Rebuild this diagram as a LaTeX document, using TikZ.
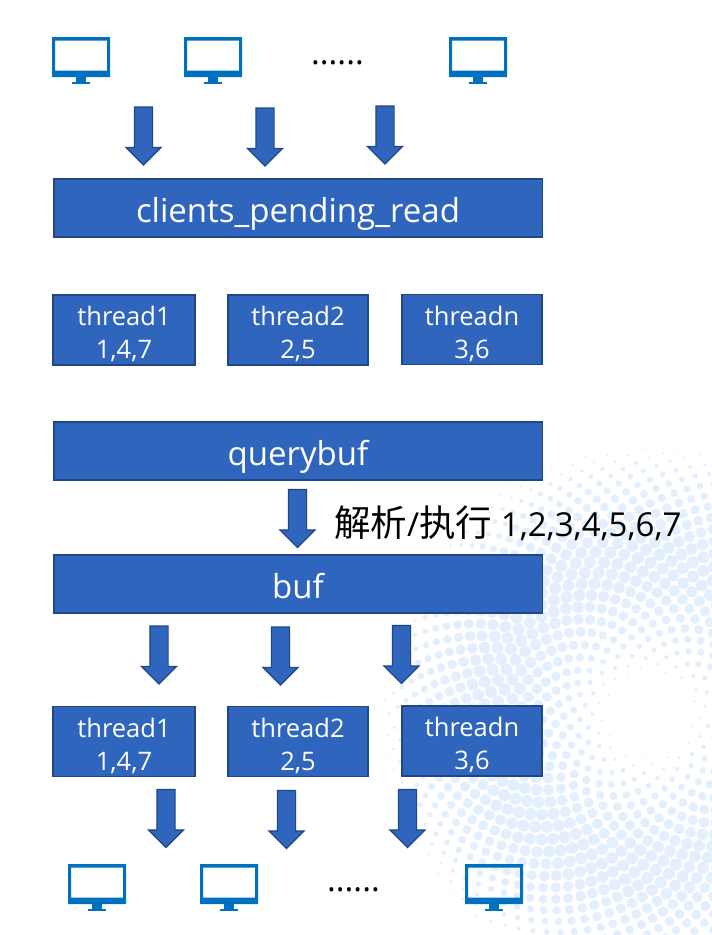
\documentclass[tikz,border=0pt]{standalone}
\usepackage{fontspec}
\setmainfont{Open Sans}
\newfontfamily\cjk{Noto Sans CJK SC}
\usetikzlibrary{shapes.arrows}
\definecolor{boxfill}{HTML}{3065BE}
\definecolor{boxline}{HTML}{1F4788}
\definecolor{screenblue}{HTML}{0070C0}
\definecolor{dotblue}{HTML}{E3EFFC}
\newcommand{\threadlabel}[2]{\rule{0pt}{27.5pt}#1\\#2}
\tikzset{
  blockbox/.style={draw=boxline,fill=boxfill,line width=1.5pt,text=white,inner sep=0pt,align=center},
  widebox/.style={blockbox,minimum width=488.5pt,minimum height=58pt,text height=31pt,text depth=3pt,font=\fontsize{33}{33}\selectfont},
  threadbox/.style={blockbox,minimum height=70pt,font=\fontsize{25.5}{33}\selectfont},
  blockarrow/.style={single arrow,draw=boxline,fill=boxfill,line width=1.2pt,inner sep=8.5pt,yshift=4pt,
    minimum height=58pt,minimum width=35pt,single arrow head extend=8.5pt,shape border rotate=270},
  dotstext/.style={inner sep=0pt,font=\fontsize{33}{33}\selectfont},
  pics/monitor/.style={code={
    \fill[screenblue,even odd rule] (0,0) rectangle (58,40) (3,3.5) rectangle (55,33.5);
    \fill[screenblue] (24,40) rectangle (34,45);
    \fill[screenblue] (20,45) rectangle (38,47);
  }}
}
\begin{document}
\begin{tikzpicture}[x=1pt,y=-1pt]
  \useasboundingbox (0,0) rectangle (712,935);
  % halftone behind everything
  \begin{scope}
    \clip (0,0) rectangle (712,935);
    \foreach \n in {1,...,1900}{
      \pgfmathsetmacro{\rad}{6.8*sqrt(\n)}
      \pgfmathsetmacro{\ang}{360*mod(0.381966*\n,1)}
      \pgfmathsetmacro{\dx}{650+\rad*cos(\ang)}
      \pgfmathsetmacro{\dy}{715+\rad*sin(\ang)}
      \pgfmathsetmacro{\dotr}{max(0,6*sin(min(180,max(0,(\rad-30)*0.72))))}
      \ifdim\dotr pt>0.4pt
        \fill[dotblue] (\dx,\dy) circle (\dotr);
      \fi
    }
  \end{scope}
  % clients
  \pic at (52,37) {monitor};
  \pic at (184,37) {monitor};
  \node[dotstext] (dotstop) at (337.5,63) {......};
  \pic at (449,37) {monitor};
  \node[blockarrow] (in1) at (143.5,135.5) {};
  \node[blockarrow] (in2) at (265,136.5) {};
  \node[blockarrow] (in3) at (385,134.5) {};
  \node[widebox] (pending) at (298,208) {clients\_pending\_read};
  % read threads
  \node[threadbox,minimum width=142pt] (reada) at (124,330) {\threadlabel{thread1}{1,4,7}};
  \node[threadbox,minimum width=140pt] (readb) at (298,330) {\threadlabel{thread2}{2,5}};
  \node[threadbox,minimum width=140pt] (readn) at (472,329.5) {\threadlabel{threadn}{3,6}};
  \node[widebox] (querybuf) at (298,451) {querybuf};
  \node[blockarrow] (parse) at (297.5,518) {};
  \node[inner sep=0pt,anchor=west,font=\fontsize{33}{33}\selectfont] (parselabel) at (334,523) {{\cjk\fontsize{36.5}{36}\selectfont 解析}/{\cjk\fontsize{36.5}{36}\selectfont 执行} 1,2,3,4,5,6,7};
  \node[widebox] (buf) at (298,584) {buf};
  \node[blockarrow] (out1) at (159,654.5) {};
  \node[blockarrow] (out2) at (280.5,655.5) {};
  \node[blockarrow] (out3) at (401.5,654) {};
  % write threads
  \node[threadbox,minimum width=142pt] (writea) at (124,741.5) {\threadlabel{thread1}{1,4,7}};
  \node[threadbox,minimum width=140pt] (writeb) at (298,741.5) {\threadlabel{thread2}{2,5}};
  \node[threadbox,minimum width=140pt] (writen) at (472,741) {\threadlabel{threadn}{3,6}};
  \node[blockarrow] (back1) at (166,818) {};
  \node[blockarrow] (back2) at (286.5,819) {};
  \node[blockarrow] (back3) at (407.5,818) {};
  \pic at (68,864) {monitor};
  \pic at (200,864) {monitor};
  \node[dotstext] (dotsbottom) at (353.5,889.5) {......};
  \pic at (465,864) {monitor};
\end{tikzpicture}
\end{document}
